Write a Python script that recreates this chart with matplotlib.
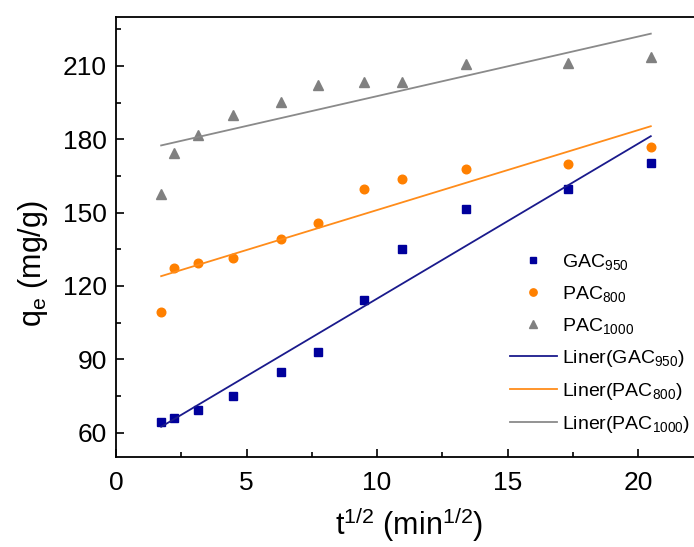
import matplotlib
matplotlib.use("Agg")
import matplotlib.pyplot as plt
import numpy as np

plt.rcParams["font.family"] = ["Liberation Sans", "DejaVu Sans"]
plt.rcParams["mathtext.fontset"] = "custom"
plt.rcParams["mathtext.rm"] = "Liberation Sans"
plt.rcParams["mathtext.it"] = "Liberation Sans:italic"

# sqrt of contact time (min^1/2)
t_half = [1.73, 2.24, 3.16, 4.47, 6.32, 7.75, 9.49, 10.95, 13.42, 17.32, 20.49]

gac950 = [64.2, 65.9, 69.3, 75.0, 84.7, 92.9, 114.1, 135.0, 151.4, 159.6, 170.1]
pac800 = [109.3, 127.2, 129.5, 131.6, 139.0, 145.8, 159.6, 163.7, 167.7, 169.7, 176.7]
pac1000 = [157.5, 174.2, 181.7, 189.8, 195.1, 202.3, 203.4, 203.6, 210.7, 211.0, 213.6]

series = [
    ("GAC", "950", gac950, "s", 5.5, "#00009c", "#1a1a8c"),
    ("PAC", "800", pac800, "o", 6.2, "#ff8000", "#ff8c1a"),
    ("PAC", "1000", pac1000, "^", 7.0, "#808080", "#8a8a8a"),
]

fig = plt.figure(figsize=(6.94, 5.47), dpi=100)
ax = fig.add_axes([116 / 694, 90 / 547, 22.5 * 26.1 / 694, 440 / 547])

x = np.array(t_half)
marks = []
lines = []
for name, sub, y, mk, ms, mc, lc in series:
    p, = ax.plot(x, y, mk, color=mc, markersize=ms, linestyle="none",
                 label=name + r"$_{\mathrm{" + sub + "}}$")
    marks.append(p)
# linear fit lines
for name, sub, y, mk, ms, mc, lc in series:
    k, b = np.polyfit(x, y, 1)
    l, = ax.plot([x[0], x[-1]], [k * x[0] + b, k * x[-1] + b], color=lc, lw=1.3,
                 label="Liner(" + name + r"$_{\mathrm{" + sub + "}}$)")
    lines.append(l)

ax.set_xlim(0, 22.5)
ax.set_ylim(50, 230)
ax.set_xticks([0, 5, 10, 15, 20])
ax.set_xticks(np.arange(2.5, 22.5, 5), minor=True)
ax.set_yticks([60, 90, 120, 150, 180, 210])
ax.set_yticks([75, 105, 135, 165, 195, 225], minor=True)
ax.tick_params(which="both", direction="in", labelsize=19, width=1.2)
ax.tick_params(which="major", length=6)
ax.tick_params(which="minor", length=3.5)
ax.tick_params(axis="x", pad=10)
ax.tick_params(axis="y", pad=6.5)
for s in ax.spines.values():
    s.set_linewidth(1.3)

ax.set_xlabel(r"t$^{\mathrm{1/2}}$ (min$^{\mathrm{1/2}}$)", fontsize=22)
ax.set_ylabel(r"q$_{\mathrm{e}}$ (mg/g)", fontsize=22)
ax.xaxis.set_label_coords(0.5, -0.108)
ax.yaxis.set_label_coords(-0.112, 0.439)

fig.legend(handles=marks + lines, loc="upper left", bbox_to_anchor=(510 / 694, 1 - 252 / 547),
           frameon=False, fontsize=14, handlelength=2.4, handletextpad=0.3,
           labelspacing=0.62, markerscale=0.85, borderpad=0, borderaxespad=0)

fig.savefig("out.png", dpi=100)
